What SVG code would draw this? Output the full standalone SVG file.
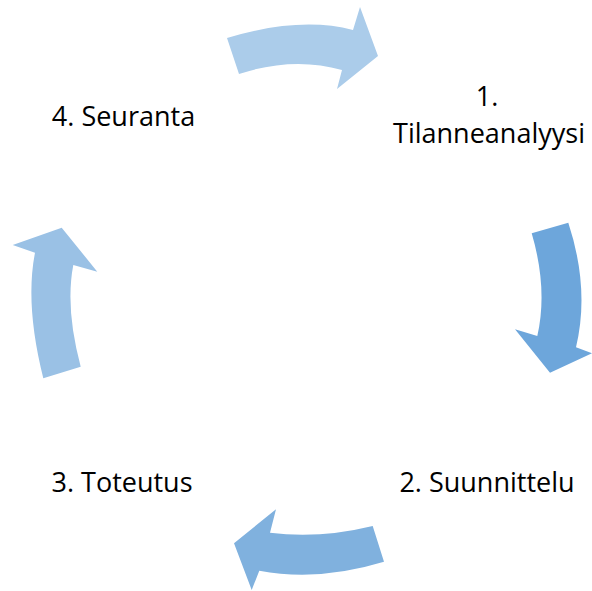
<svg xmlns="http://www.w3.org/2000/svg" width="592" height="591" viewBox="0 0 592 591">
  <style>
    .lbl { font-family: "Open Sans", "Liberation Sans", sans-serif; font-size: 27px; fill: #000; text-anchor: middle; }
  </style>
  <rect width="592" height="591" fill="#fff"/>
  <!-- curved block arrows of the cycle -->
  <g id="connectors">
    <path id="arrow-top" fill="#ABCCEA" d="M227,38 Q300,16 353,30 L360,7 L378,56 L337,89 L342,70 Q293.5,56 239,74 Z"/>
    <path id="arrow-right" fill="#6DA6DB" d="M531.7,233.3 L568.3,222.7 Q590,289 576,347.3 L592,353.3 L550,372.7 L515,329.3 L537.3,336 Q548,289 531.7,233.3 Z"/>
    <path id="arrow-bottom" fill="#80B1DE" d="M372.7,526 L384,561.7 Q318.4,581.8 259.3,570.7 L251.7,590 L234,543.3 L276,509.3 L270,532.7 Q318.6,539.2 372.7,526 Z"/>
    <path id="arrow-left" fill="#9AC1E5" d="M43.3,378.3 Q24.8,304.5 35,252.7 L12.7,245 L61.7,227.7 L97.3,271.7 L73.3,265 Q65,308 80.7,366.7 Z"/>
  </g>
  <g id="step1">
    <text class="lbl"><tspan x="487" y="106">1.</tspan><tspan x="489" y="143">Tilanneanalyysi</tspan></text>
  </g>
  <g id="step2">
    <text class="lbl" x="487" y="492">2. Suunnittelu</text>
  </g>
  <g id="step3">
    <text class="lbl" x="122" y="492">3. Toteutus</text>
  </g>
  <g id="step4">
    <text class="lbl" x="123.5" y="126">4. Seuranta</text>
  </g>
</svg>
